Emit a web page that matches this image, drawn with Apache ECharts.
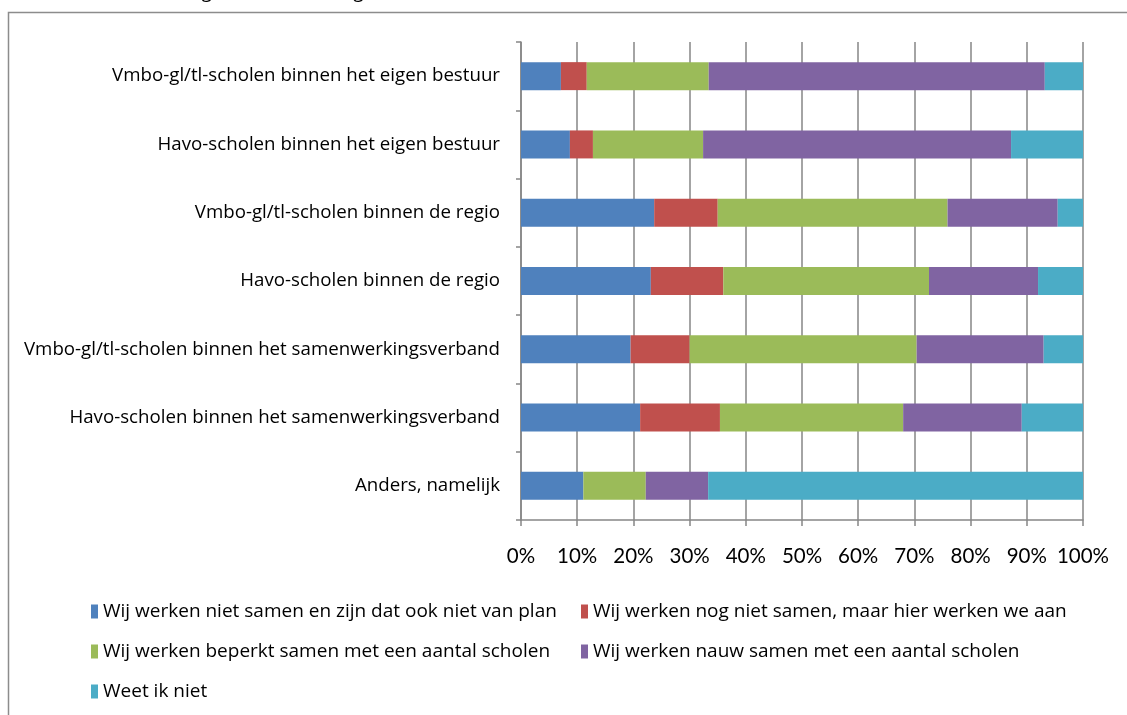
<!DOCTYPE html>
<html>
<head>
<meta charset="utf-8">
<script src="https://cdn.jsdelivr.net/npm/echarts@6/dist/echarts.min.js"></script>
<style>
  html, body { margin: 0; padding: 0; background: #fff; }
  #main { width: 1127px; height: 715px; }
</style>
</head>
<body>
<div id="main"></div>
<script>
// categories top to bottom as in the picture
var categories = [
  'Vmbo-gl/tl-scholen binnen het eigen bestuur',
  'Havo-scholen binnen het eigen bestuur',
  'Vmbo-gl/tl-scholen binnen de regio',
  'Havo-scholen binnen de regio',
  'Vmbo-gl/tl-scholen binnen het samenwerkingsverband',
  'Havo-scholen binnen het samenwerkingsverband',
  'Anders, namelijk'
];

var seriesNames = [
  'Wij werken niet samen en zijn dat ook niet van plan',
  'Wij werken nog niet samen, maar hier werken we aan',
  'Wij werken beperkt samen met een aantal scholen',
  'Wij werken nauw samen met een aantal scholen',
  'Weet ik niet'
];

// percentages per category (same order as categories)
var nietSamen   = [7.1, 8.7, 23.7, 23.1, 19.5, 21.2, 11.1];
var nogNiet     = [4.6, 4.1, 11.3, 12.9, 10.5, 14.2, 0];
var beperkt     = [21.7, 19.6, 40.9, 36.6, 40.4, 32.6, 11.1];
var nauw        = [59.8, 54.8, 19.6, 19.4, 22.6, 21.1, 11.1];
var weetNiet    = [6.8, 12.8, 4.5, 8.0, 7.0, 10.9, 66.7];

var xTicks = [0, 10, 20, 30, 40, 50, 60, 70, 80, 90, 100];

var colors = ['#4F81BD', '#C0504D', '#9BBB59', '#8064A2', '#4BACC6'];
var allData = [nietSamen, nogNiet, beperkt, nauw, weetNiet];

var myChart = echarts.init(document.getElementById('main'));

var series = seriesNames.map(function(name, i){
  return {
    name: name,
    type: 'bar',
    stack: 'total',
    barWidth: 28,
    itemStyle: { color: colors[i] },
    data: allData[i].slice().reverse()
  };
});

var legendText = { fontFamily: 'Open Sans', fontSize: 19, color: '#000' };

var option = {
  animation: false,
  textStyle: { fontFamily: 'Open Sans' },
  graphic: [
    {
      type: 'rect',
      shape: { x: 8.5, y: 12.5, width: 1130, height: 720 },
      style: { fill: 'none', stroke: '#8c8c8c', lineWidth: 1.5 },
      z: -1
    },
    {
      type: 'text',
      left: 132, top: -19,
      style: {
        text: 'toelatings- en aansluitingsbeleid? (n = 205)',
        font: 'italic 21px "Open Sans"',
        fill: '#000'
      }
    }
  ],
  grid: { left: 521, right: 44, top: 42, bottom: 195 },
  legend: [
    {
      orient: 'vertical',
      left: 86, top: 597,
      itemWidth: 7, itemHeight: 14,
      itemGap: 21,
      icon: 'rect',
      textStyle: legendText,
      data: [seriesNames[0], seriesNames[2], seriesNames[4]]
    },
    {
      orient: 'vertical',
      left: 576, top: 597,
      itemWidth: 7, itemHeight: 14,
      itemGap: 21,
      icon: 'rect',
      textStyle: legendText,
      data: [seriesNames[1], seriesNames[3]]
    }
  ],
  xAxis: {
    type: 'value',
    min: 0, max: 100, interval: 10,
    axisLine: { show: true, lineStyle: { color: '#868686', width: 1.5 } },
    axisTick: { show: true, length: 6, lineStyle: { color: '#868686', width: 1.5 } },
    splitLine: { show: true, lineStyle: { color: '#868686', width: 1.5 } },
    axisLabel: {
      margin: 26,
      fontSize: 20.5,
      fontFamily: 'Lato',
      color: '#000',
      formatter: function(v){ return xTicks.indexOf(v) >= 0 ? v + '%' : ''; }
    }
  },
  yAxis: {
    type: 'category',
    data: categories.slice().reverse(),
    axisLine: { show: true, lineStyle: { color: '#868686', width: 1.5 } },
    axisTick: { show: true, length: 5, lineStyle: { color: '#868686', width: 1.5 } },
    axisLabel: {
      margin: 21,
      fontSize: 18.7,
      fontFamily: 'Open Sans',
      color: '#000'
    }
  },
  series: series
};

myChart.setOption(option);
</script>
</body>
</html>
